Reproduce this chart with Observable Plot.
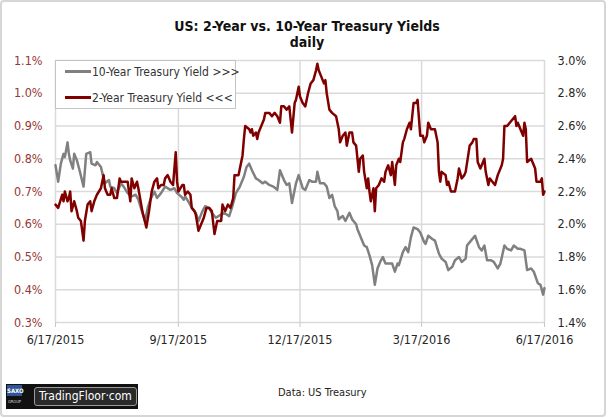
<!DOCTYPE html>
<html>
<head>
<meta charset="utf-8">
<script src="https://cdn.jsdelivr.net/npm/d3@7"></script>
<script src="https://cdn.jsdelivr.net/npm/@observablehq/plot@0.6"></script>
<style>
  body { margin: 0; background: #fff; }
  #wrap { position: relative; width: 608px; height: 418px; overflow: hidden;
          font-family: Tahoma, "DejaVu Sans Condensed", "DejaVu Sans", sans-serif; font-stretch: condensed; color: #1a1a1a; }
  #frame { position: absolute; left: 0px; top: 0px; width: 602px; height: 413px; border: 2px solid #d6d6d6; border-radius: 4px; }
  .title { position: absolute; left: 0; width: 614px; text-align: center; font-weight: bold; font-size: 14px; color: #111; }
  #chart { position: absolute; left: 0; top: 50px; }
  #legend { position: absolute; left: 55px; top: 60px; width: 179px; height: 47px; background: #fff; border: 1px solid #c4c4c4; font-size: 12px; color: #333; }
  .lg { position: absolute; left: 9px; height: 14px; line-height: 14px; white-space: nowrap; }
  .lg span.sw { display: inline-block; width: 26px; height: 3px; vertical-align: middle; margin-right: 1px; position: relative; top: -1px; }
  #source { position: absolute; left: 278px; top: 386px; font-size: 11px; color: #222; }
  #logo { position: absolute; left: 6px; top: 384px; width: 132px; height: 25px; background: #111; }
  #saxo { position: absolute; left: 1px; top: 1px; width: 15px; height: 22px; }
  #saxo .top { position: absolute; left: 0; top: 0; width: 15px; height: 11px; background: #2f5597; color: #fff; font-size: 6px; font-weight: bold; text-align: center; line-height: 11px; font-family: "DejaVu Sans", sans-serif; }
  #saxo .bot { position: absolute; left: 0; top: 12px; width: 15px; height: 9px; color: #ddd; font-size: 4px; text-align: center; line-height: 9px; font-family: "DejaVu Sans", sans-serif; }
  #tf { position: absolute; left: 28px; top: 3px; width: 101px; height: 17px; background: #2a2a2a; border: 1px solid #9a9a9a; border-radius: 3px; color: #fff; font-size: 12px; line-height: 17px; text-align: center; font-family: "DejaVu Sans", sans-serif; font-stretch: condensed; }
</style>
</head>
<body>
<div id="wrap">
  <div id="frame"></div>
  <div class="title" style="top:18px">US: 2-Year vs. 10-Year Treasury Yields</div>
  <div class="title" style="top:34px">daily</div>
  <div id="chart"></div>
  <div id="legend">
    <div class="lg" style="top:4px"><span class="sw" style="background:#808080"></span>10-Year Treasury Yield &gt;&gt;&gt;</div>
    <div class="lg" style="top:30px"><span class="sw" style="background:#800000"></span>2-Year Treasury Yield &lt;&lt;&lt;</div>
  </div>
  <div id="logo">
    <div id="saxo"><div class="top">SAXO</div><div class="bot">GROUP</div></div>
    <div id="tf">TradingFloor·com</div>
  </div>
  <div id="source">Data: US Treasury</div>
</div>
<script>
// ---- data (days since 6/17/2015, yields in %) ----
const startLabel = "6/17/2015";
const endLabel = "6/17/2016";
const xTickLabels = ["6/17/2015", "9/17/2015", "12/17/2015", "3/17/2016", "6/17/2016"];
const leftTicks = [0.3, 0.4, 0.5, 0.6, 0.7, 0.8, 0.9, 1.0, 1.1];
const rightTicks = [1.4, 1.6, 1.8, 2.0, 2.2, 2.4, 2.6, 2.8, 3.0];

const days10y = [0,2,4,6,7,9,10,11,13,14,16,18,21,23,26,27,30,31,34,36,37,40,41,44,46,49,51,54,57,60,62,65,67,69,71,74,76,79,82,86,89,91,94,96,97,100,102,105,107,110,112,115,117,120,122,126,130,132,135,138,141,143,145,147,150,152,155,157,160,163,166,168,171,173,175,177,180,182,185,187,190,192,195,196,198,201,203,205,207,209,211,212,215,217,220,222,225,226,228,231,233,235,237,239,241,243,245,247,250,252,254,256,257,260,262,264,266,268,271,273,276,277,279,282,284,287,289,292,294,297,299,302,304,307,308,311,314,317,319,321,323,326,328,331,333,336,338,341,343,346,348,351,353,356,358,361,363,365,366];
const yields10y = [2.36,2.26,2.37,2.43,2.41,2.50,2.43,2.39,2.34,2.43,2.39,2.33,2.23,2.43,2.44,2.37,2.36,2.38,2.35,2.28,2.25,2.27,2.23,2.22,2.19,2.25,2.23,2.19,2.17,2.18,2.15,2.07,2.02,2.10,2.15,2.20,2.16,2.19,2.23,2.21,2.22,2.19,2.17,2.15,2.17,2.13,2.10,2.07,2.02,2.08,2.11,2.10,2.07,2.04,2.05,2.07,2.05,2.10,2.19,2.23,2.29,2.35,2.37,2.33,2.28,2.27,2.25,2.26,2.24,2.23,2.21,2.33,2.27,2.24,2.25,2.13,2.25,2.30,2.22,2.21,2.27,2.26,2.26,2.32,2.25,2.25,2.23,2.16,2.18,2.11,2.08,2.03,2.05,2.02,2.07,2.03,2.00,1.97,1.93,1.87,1.86,1.81,1.75,1.63,1.73,1.77,1.80,1.76,1.76,1.76,1.71,1.76,1.75,1.83,1.86,1.83,1.92,1.98,1.97,1.95,1.89,1.88,1.93,1.91,1.90,1.82,1.79,1.77,1.72,1.74,1.78,1.80,1.77,1.79,1.87,1.90,1.93,1.86,1.84,1.87,1.78,1.78,1.77,1.73,1.76,1.87,1.85,1.84,1.87,1.85,1.85,1.84,1.72,1.73,1.71,1.64,1.63,1.57,1.61];

const days2y = [0,2,5,6,7,9,10,11,12,14,16,17,19,21,22,24,26,27,29,31,34,36,37,39,41,42,44,46,48,49,51,54,56,57,59,61,62,65,68,70,72,74,76,77,79,81,82,84,86,88,90,91,92,95,96,97,99,101,102,104,105,107,109,111,113,115,117,119,121,124,125,127,129,131,133,134,137,138,140,141,142,145,146,147,148,150,151,152,154,156,157,160,162,164,166,168,169,171,173,175,177,179,180,182,183,185,187,189,191,193,195,196,197,199,201,202,203,205,207,210,212,213,215,217,218,220,222,223,225,227,228,230,231,233,234,235,236,238,239,240,242,244,246,247,249,251,252,254,255,257,258,260,261,263,265,266,268,270,271,273,275,276,278,279,281,284,286,287,288,289,292,293,294,296,298,299,301,302,304,306,307,310,312,313,315,316,318,321,322,324,325,327,329,331,332,334,335,336,338,340,342,344,345,346,348,350,351,352,353,356,357,359,360,363,364,365,366];
const yields2y = [0.66,0.65,0.69,0.67,0.70,0.67,0.68,0.70,0.64,0.67,0.64,0.62,0.61,0.55,0.61,0.66,0.67,0.64,0.67,0.69,0.71,0.75,0.71,0.69,0.69,0.71,0.68,0.68,0.74,0.73,0.73,0.73,0.67,0.74,0.71,0.73,0.71,0.64,0.59,0.64,0.70,0.73,0.74,0.71,0.72,0.72,0.74,0.75,0.73,0.72,0.82,0.73,0.70,0.72,0.72,0.69,0.70,0.69,0.65,0.64,0.63,0.58,0.60,0.62,0.65,0.65,0.64,0.57,0.61,0.61,0.66,0.64,0.66,0.65,0.68,0.75,0.75,0.77,0.81,0.86,0.90,0.89,0.88,0.89,0.87,0.88,0.86,0.88,0.90,0.92,0.94,0.94,0.93,0.94,0.93,0.91,0.96,0.96,0.95,0.96,0.88,0.97,0.98,1.02,0.99,0.97,0.96,1.00,1.03,1.04,1.07,1.09,1.07,1.05,1.03,1.04,1.00,0.95,0.94,0.93,0.89,0.85,0.87,0.88,0.84,0.88,0.88,0.85,0.84,0.76,0.80,0.81,0.76,0.71,0.74,0.70,0.67,0.71,0.64,0.71,0.72,0.74,0.73,0.76,0.78,0.75,0.79,0.72,0.78,0.80,0.79,0.85,0.86,0.89,0.91,0.89,0.97,0.97,0.98,0.87,0.87,0.85,0.87,0.91,0.89,0.89,0.85,0.76,0.73,0.76,0.75,0.72,0.73,0.70,0.70,0.70,0.74,0.77,0.74,0.75,0.76,0.84,0.85,0.86,0.86,0.79,0.77,0.80,0.76,0.72,0.74,0.73,0.72,0.75,0.76,0.78,0.80,0.90,0.90,0.91,0.92,0.93,0.90,0.91,0.89,0.87,0.91,0.89,0.79,0.80,0.79,0.77,0.73,0.73,0.74,0.69,0.70];

// ---- helpers ----
const parse = d3.utcParse("%m/%d/%Y");
const start = parse(startLabel);
const end = parse(endLabel);
const toDate = d => d3.utcDay.offset(start, d);
const L0 = leftTicks[0], L1 = leftTicks[leftTicks.length - 1];
const R0 = rightTicks[0], R1 = rightTicks[rightTicks.length - 1];
const rightToLeft = v => L0 + (v - R0) * (L1 - L0) / (R1 - R0);
const leftToRight = v => R0 + (v - L0) * (R1 - R0) / (L1 - L0);

const series10 = days10y.map((d, i) => ({date: toDate(d), value: rightToLeft(yields10y[i])}));
const series2 = days2y.map((d, i) => ({date: toDate(d), value: yields2y[i]}));
const xTicks = xTickLabels.map(parse);
const fmtDate = d3.utcFormat("%-m/%-d/%Y");

const chart = Plot.plot({
  width: 608,
  height: 320,
  marginLeft: 55,
  marginRight: 64,
  marginTop: 10,
  marginBottom: 48,
  x: {type: "utc", domain: [start, end], label: null},
  y: {domain: [L0, L1], label: null},
  style: {fontFamily: 'Tahoma, "DejaVu Sans Condensed", "DejaVu Sans", sans-serif', fontSize: "12px", background: "transparent", overflow: "visible"},
  marks: [
    Plot.ruleY(leftTicks, {stroke: "#dadada", strokeWidth: 1.5}),
    Plot.ruleX(xTicks, {stroke: "#dadada", strokeWidth: 1.5}),
    Plot.axisX(xTicks, {label: null, tickSize: 5, tickPadding: 8, stroke: "#c8c8c8", fill: "#262626", tickFormat: fmtDate, fontSize: 12.5}),
    Plot.axisY(leftTicks, {anchor: "left", label: null, tickSize: 0, tickPadding: 13, fill: "#953735", tickFormat: d => d.toFixed(1) + "%", fontSize: 12.5}),
    Plot.axisY(rightTicks.map(rightToLeft), {anchor: "right", label: null, tickSize: 0, tickPadding: 13, fill: "#262626", tickFormat: d => leftToRight(d).toFixed(1) + "%", fontSize: 12.5}),
    Plot.line(series10, {x: "date", y: "value", stroke: "#808080", strokeWidth: 2.5}),
    Plot.line(series2, {x: "date", y: "value", stroke: "#800000", strokeWidth: 2.5})
  ]
});
document.getElementById("chart").appendChild(chart);
</script>
</body>
</html>
